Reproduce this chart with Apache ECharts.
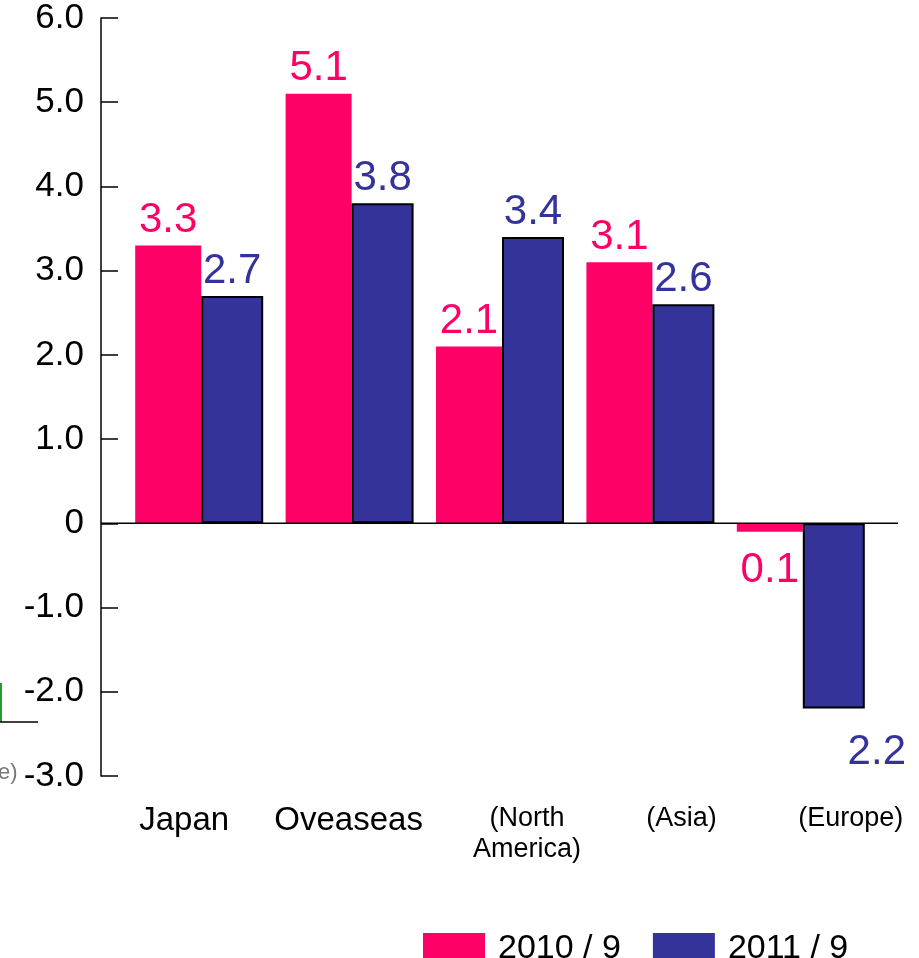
<!DOCTYPE html>
<html>
<head>
<meta charset="utf-8">
<script src="https://cdn.jsdelivr.net/npm/echarts@6/dist/echarts.min.js"></script>
<style>
html,body{margin:0;padding:0;background:#fff;}
#chart{width:919px;height:958px;}
</style>
</head>
<body>
<div id="chart"></div>
<script>
const categories = ['Japan', 'Oveaseas', '(North\nAmerica)', '(Asia)', '(Europe)'];
const seriesNames = ['2010 / 9', '2011 / 9'];
const values2010 = [3.3, 5.1, 2.1, 3.1, -0.1];
const values2011 = [2.7, 3.8, 3.4, 2.6, -2.2];
const yTicks = [-3, -2, -1, 0, 1, 2, 3, 4, 5, 6];

// horizontal nudges of the category labels (layout only)
const labelShift = [-15, -1, 27, 31, 50];

const FONT = 'Liberation Sans, Arial, Helvetica, sans-serif';
const PINK = '#FF0066';
const BLUE = '#333399';

const chart = echarts.init(document.getElementById('chart'), null, {renderer: 'canvas'});

function makeData(values, negOffset, negDistance) {
  return values.map(function (v) {
    if (v < 0) {
      return {value: v, label: {position: 'bottom', distance: negDistance, offset: negOffset}};
    }
    return {value: v};
  });
}

const rich = {};
categories.forEach(function (c, i) {
  const dx = labelShift[i];
  const pad = dx >= 0 ? [0, 0, 0, 2 * dx] : [0, -2 * dx, 0, 0];
  const paren = c.charAt(0) === '(';
  rich['c' + i] = {
    fontSize: paren ? 27 : 33,
    lineHeight: paren ? 31 : 36,
    color: '#000',
    fontFamily: FONT,
    padding: pad
  };
});

const option = {
  animation: false,
  backgroundColor: '#fff',
  textStyle: {fontFamily: FONT},
  grid: {left: 124, right: 43, top: 18, bottom: 182, containLabel: false},
  legend: {
    data: seriesNames,
    left: 418,
    top: 927,
    itemWidth: 62,
    itemHeight: 32,
    itemGap: 32,
    icon: 'rect',
    textStyle: {fontSize: 34, color: '#000', fontFamily: FONT, padding: [0, 0, 0, 8]},
    itemStyle: {borderWidth: 0}
  },
  xAxis: {
    type: 'category',
    data: categories,
    axisLine: {show: false, onZero: false},
    axisTick: {show: false},
    axisLabel: {
      margin: 27,
      interval: 0,
      verticalAlign: 'top',
      formatter: function (v, idx) {
        return v.split('\n').map(function (s) { return '{c' + idx + '|' + s + '}'; }).join('\n');
      },
      rich: rich
    }
  },
  yAxis: {
    type: 'value',
    min: yTicks[0],
    max: yTicks[yTicks.length - 1],
    interval: 1,
    offset: 23,
    axisLine: {show: true, lineStyle: {color: '#000', width: 1.5}},
    axisTick: {show: true, inside: true, length: 17, lineStyle: {color: '#000', width: 1.5}},
    splitLine: {show: false},
    axisLabel: {
      margin: 17,
      fontSize: 35,
      color: '#000',
      fontFamily: FONT,
      formatter: function (v) { return v === 0 ? '0' : v.toFixed(1); }
    }
  },
  series: [
    {
      name: seriesNames[0],
      type: 'bar',
      barWidth: 66,
      barGap: '0%',
      itemStyle: {color: PINK},
      label: {
        show: true, position: 'top', distance: 4,
        fontSize: 42, color: PINK, fontFamily: FONT,
        formatter: function (p) { return Math.abs(p.value).toFixed(1); }
      },
      data: makeData(values2010, [0, 0], 18)
    },
    {
      name: seriesNames[1],
      type: 'bar',
      barWidth: 62,
      barGap: '0%',
      itemStyle: {color: BLUE, borderColor: '#000', borderWidth: 2},
      label: {
        show: true, position: 'top', distance: 4,
        fontSize: 42, color: BLUE, fontFamily: FONT,
        formatter: function (p) { return Math.abs(p.value).toFixed(1); }
      },
      data: makeData(values2011, [43, 18], 5)
    }
  ]
};

chart.setOption(option);

const zeroY = chart.convertToPixel({yAxisIndex: 0}, 0);
chart.setOption({
  graphic: [
    {type: 'line', shape: {x1: 101, y1: zeroY, x2: 898, y2: zeroY}, style: {stroke: '#000', lineWidth: 1.5}, z: 10},
    {type: 'line', shape: {x1: 1, y1: 683, x2: 1, y2: 722}, style: {stroke: '#2a9a2a', lineWidth: 2}},
    {type: 'line', shape: {x1: 0, y1: 722, x2: 38, y2: 722}, style: {stroke: '#000', lineWidth: 1.5}},
    {type: 'text', left: -2, top: 762, style: {text: 'e)', fontSize: 22, fill: '#777', fontFamily: FONT}}
  ]
});
</script>
</body>
</html>
